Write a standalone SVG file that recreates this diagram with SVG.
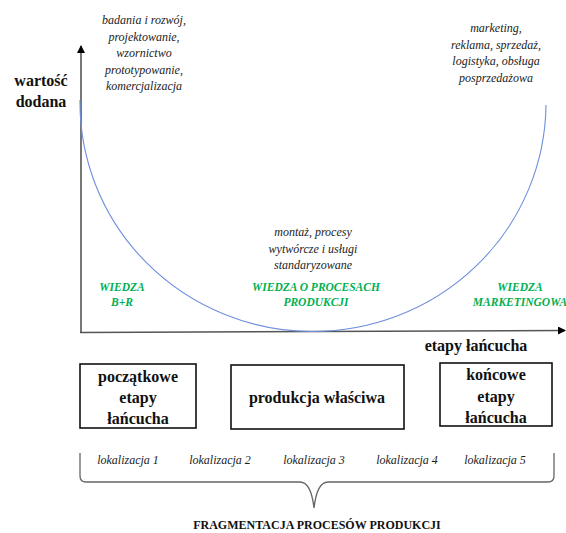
<svg xmlns="http://www.w3.org/2000/svg" width="566" height="533" viewBox="0 0 566 533">
<defs>
<style>
.it{font-family:'Liberation Serif','Times New Roman','DejaVu Serif',serif;font-style:italic;font-size:12px;fill:#222;text-anchor:middle}
.bd{font-family:'Liberation Serif','Times New Roman','DejaVu Serif',serif;font-weight:bold;font-size:16px;fill:#111;text-anchor:middle}
.gr{font-family:'Liberation Serif','Times New Roman','DejaVu Serif',serif;font-weight:bold;font-style:italic;font-size:11.5px;fill:#00B050;text-anchor:middle}
.fr{font-family:'Liberation Serif','Times New Roman','DejaVu Serif',serif;font-weight:bold;font-size:12px;fill:#111;text-anchor:middle}
.box{fill:#fff;stroke:#111;stroke-width:1.6}
.ax{stroke:#555;stroke-width:1.6;fill:none}
</style>
<marker id="ah" markerWidth="8" markerHeight="8" refX="7" refY="4" orient="auto" markerUnits="userSpaceOnUse">
<path d="M0,0 L8,4 L0,8 Z" fill="#000"/>
</marker>
</defs>
<rect width="566" height="533" fill="#fff"/>
<g id="connectors">
<path class="ax" d="M81,333 L81,46" marker-end="url(#ah)"/>
<path class="ax" d="M80,332.5 L565,330.5" marker-end="url(#ah)"/>
<path d="M80,100 A233 229 0 0 0 546,105" fill="none" stroke="#6d8fdc" stroke-width="1.1"/>
<path d="M80,453 L80,476 Q80,482 86,482 L300,482 Q311,482 314,508 Q317,482 328,482 L548,482 Q554,482 554,476 L554,453" fill="none" stroke="#666" stroke-width="1.3"/>
</g>
<g id="label-wartosc">
<text class="bd" x="41" y="86">wartość</text>
<text class="bd" x="41" y="107">dodana</text>
</g>
<g id="label-br">
<text class="it" x="144" y="24">badania i rozwój,</text>
<text class="it" x="144" y="41">projektowanie,</text>
<text class="it" x="144" y="57">wzornictwo</text>
<text class="it" x="144" y="74">prototypowanie,</text>
<text class="it" x="144" y="90">komercjalizacja</text>
</g>
<g id="label-marketing">
<text class="it" x="496" y="32">marketing,</text>
<text class="it" x="496" y="49">reklama, sprzedaż,</text>
<text class="it" x="496" y="65">logistyka, obsługa</text>
<text class="it" x="496" y="82">posprzedażowa</text>
</g>
<g id="label-montaz">
<text class="it" x="313" y="236">montaż, procesy</text>
<text class="it" x="313" y="253">wytwórcze i usługi</text>
<text class="it" x="313" y="269">standaryzowane</text>
</g>
<g id="wiedza-br">
<text class="gr" x="122" y="291">WIEDZA</text>
<text class="gr" x="122" y="306">B+R</text>
</g>
<g id="wiedza-procesy">
<text class="gr" x="316" y="291">WIEDZA O PROCESACH</text>
<text class="gr" x="316" y="306">PRODUKCJI</text>
</g>
<g id="wiedza-marketing">
<text class="gr" x="520" y="291">WIEDZA</text>
<text class="gr" x="520" y="306">MARKETINGOWA</text>
</g>
<g id="label-etapy">
<text class="bd" x="476" y="351">etapy łańcucha</text>
</g>
<g id="box-poczatkowe">
<rect class="box" x="80" y="364" width="116" height="64"/>
<text class="bd" x="138" y="382">początkowe</text>
<text class="bd" x="138" y="403">etapy</text>
<text class="bd" x="138" y="424">łańcucha</text>
</g>
<g id="box-produkcja">
<rect class="box" x="231" y="365" width="173" height="64"/>
<text class="bd" x="317" y="403">produkcja właściwa</text>
</g>
<g id="box-koncowe">
<rect class="box" x="440" y="363" width="112" height="63"/>
<text class="bd" x="496" y="380">końcowe</text>
<text class="bd" x="496" y="402">etapy</text>
<text class="bd" x="496" y="423">łańcucha</text>
</g>
<g id="lokalizacje">
<text class="it" x="128" y="464">lokalizacja 1</text>
<text class="it" x="220" y="464">lokalizacja 2</text>
<text class="it" x="314" y="464">lokalizacja 3</text>
<text class="it" x="407" y="464">lokalizacja 4</text>
<text class="it" x="495" y="464">lokalizacja 5</text>
</g>
<g id="label-fragmentacja">
<text class="fr" x="317" y="529">FRAGMENTACJA PROCESÓW PRODUKCJI</text>
</g>
</svg>
